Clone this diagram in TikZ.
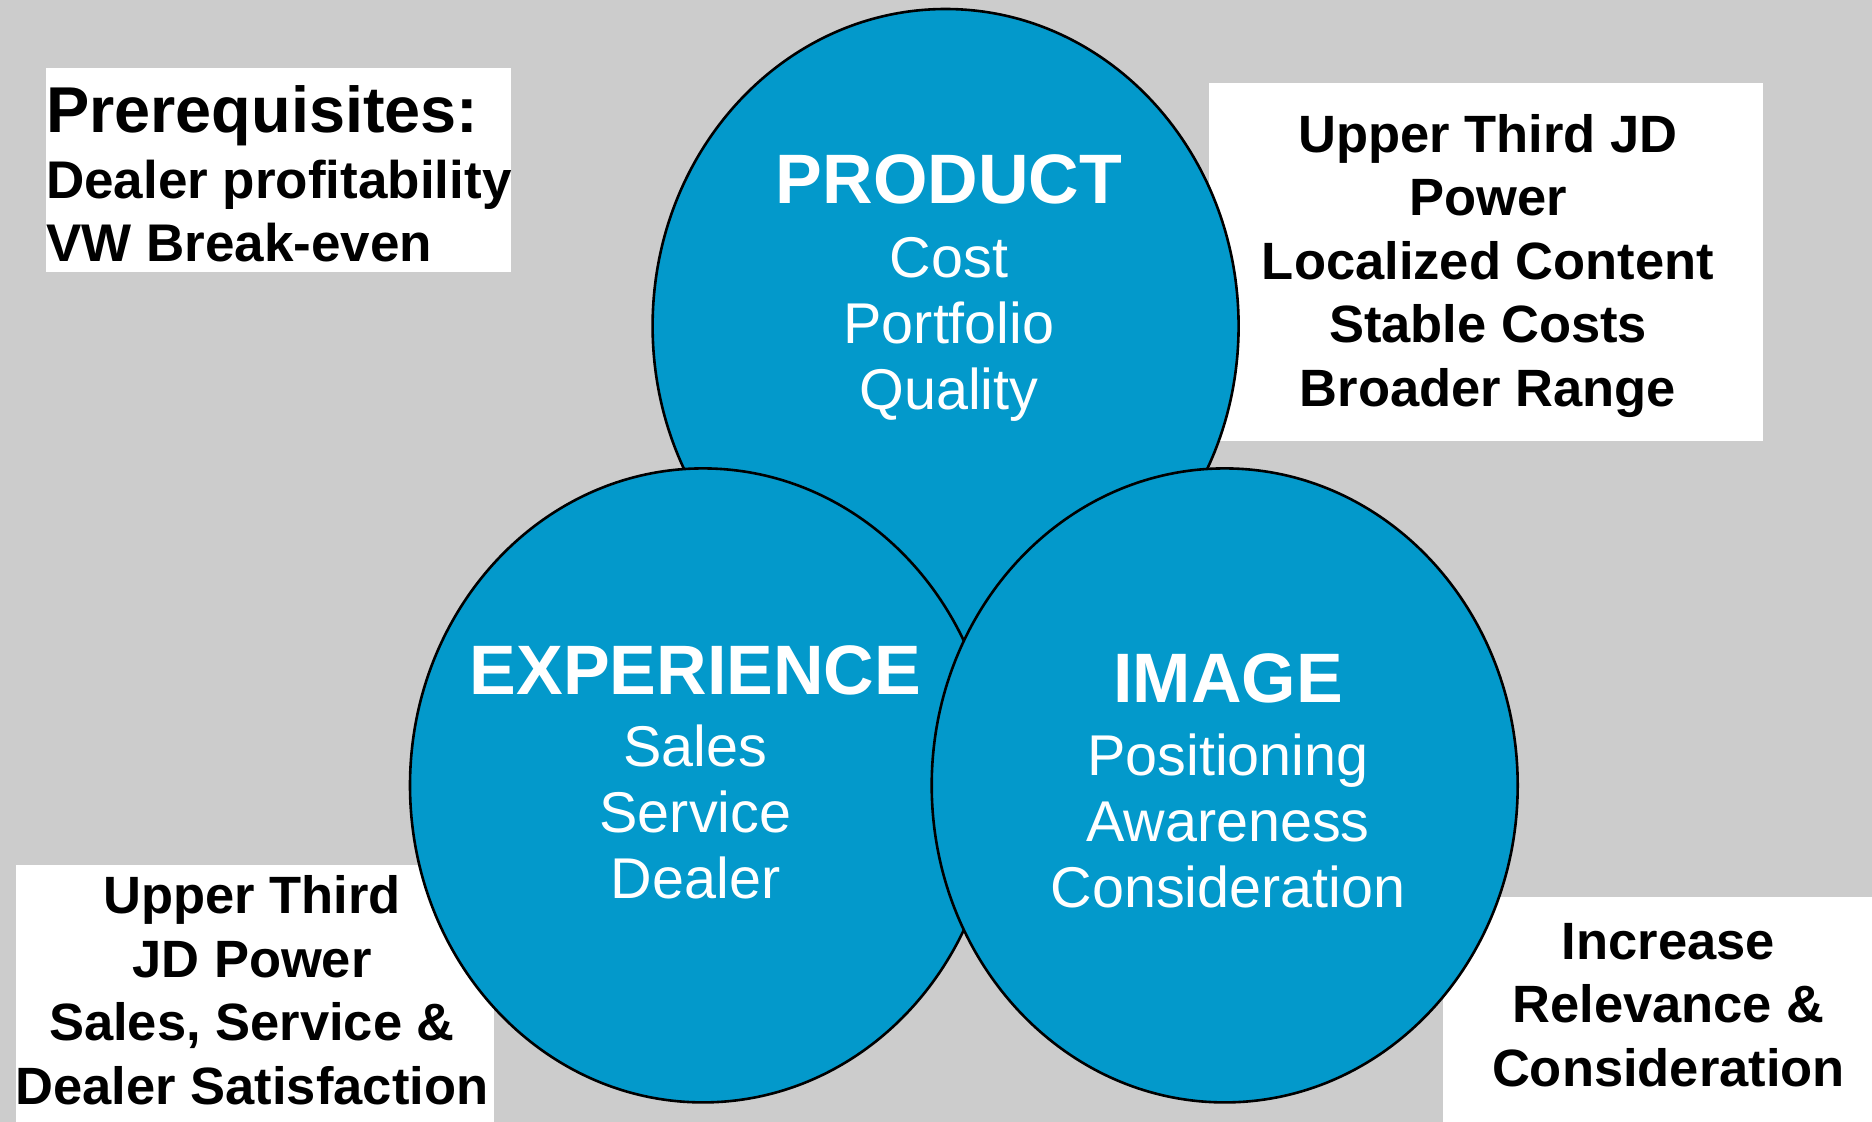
\documentclass[tikz,border=0pt]{standalone}
\usepackage{fontspec}
\setmainfont{Liberation Sans}
\usetikzlibrary{shapes.geometric}
\definecolor{lobeblue}{HTML}{0399CB}
\definecolor{slidegray}{HTML}{CCCCCC}
% invisible rule fixing the height of a block's first line at 1em
\newcommand{\lobestrut}{\rule{0pt}{1em}}

\begin{document}
\begin{tikzpicture}[x=1pt,y=-1pt,
  lobe/.style={ellipse, draw=black, line width=2.6pt, fill=lobeblue,
    minimum width=586pt, minimum height=634pt, inner sep=0pt, outer sep=0pt},
  notebox/.style={fill=white, inner sep=0pt, outer sep=0pt, anchor=north west},
  lobetitle/.style={text=white, inner sep=0pt, anchor=base,
    font=\fontsize{70}{84}\selectfont\bfseries},
  lobeitems/.style={text=white, inner sep=0pt, anchor=north, align=center,
    font=\fontsize{57.5}{66}\selectfont},
  notetext/.style={text=black, inner sep=0pt, anchor=north, align=center,
    font=\fontsize{52.5}{63.5}\selectfont\bfseries},
]
% slide background
\fill[slidegray] (0,0) rectangle (1872,1122);
\useasboundingbox (0,0) rectangle (1872,1122);

% white note panels
\node[notebox, minimum width=465pt, minimum height=204.5pt] (prereqbox) at (46,67.5) {};
\node[notebox, minimum width=554pt, minimum height=358pt] (productbox) at (1209,83) {};
\node[notebox, minimum width=478pt, minimum height=257pt] (experiencebox) at (16,865) {};
\node[notebox, minimum width=429pt, minimum height=225pt] (imagebox) at (1443,897) {};

% the three overlapping lobes
\node[lobe] (product) at (945.6,326) {};
\node[lobe] (experience) at (703,785.4) {};
\node[lobe] (image) at (1224.7,785.4) {};

% lobe labels
\node[lobetitle] (producthead) at (949,203) {PRODUCT};
\node[lobeitems] (productlist) at (949,219.5) {\lobestrut Cost\\Portfolio\\Quality};
\node[lobetitle] (experiencehead) at (695.5,694) {EXPERIENCE};
\node[lobeitems] (experiencelist) at (695.5,709.2) {\lobestrut Sales\\Service\\Dealer};
\node[lobetitle] (imagehead) at (1228,702) {IMAGE};
\node[lobeitems] (imagelist) at (1228,717.5) {\lobestrut Positioning\\Awareness\\Consideration};

% note texts
\node[anchor=base west, inner sep=0pt, font=\fontsize{64.8}{76}\selectfont\bfseries]
  (prereqhead) at (46,132) {Prerequisites:};
\node[notetext, anchor=north west, align=left,
  font=\fontsize{53}{63}\selectfont\bfseries] (prereqlist) at (46,145)
  {\lobestrut Dealer profitability\\VW Break-even};
\node[notetext] (productnote) at (1488,99.5)
  {\lobestrut Upper Third JD\\Power\\Localized Content\\Stable Costs\\Broader Range};
\node[notetext] (experiencenote) at (252,860.9)
  {\lobestrut Upper Third\\JD Power\\Sales, Service \&\\Dealer Satisfaction};
\node[notetext] (imagenote) at (1668.5,906.5)
  {\lobestrut Increase\\Relevance \&\\Consideration};
\end{tikzpicture}
\end{document}
